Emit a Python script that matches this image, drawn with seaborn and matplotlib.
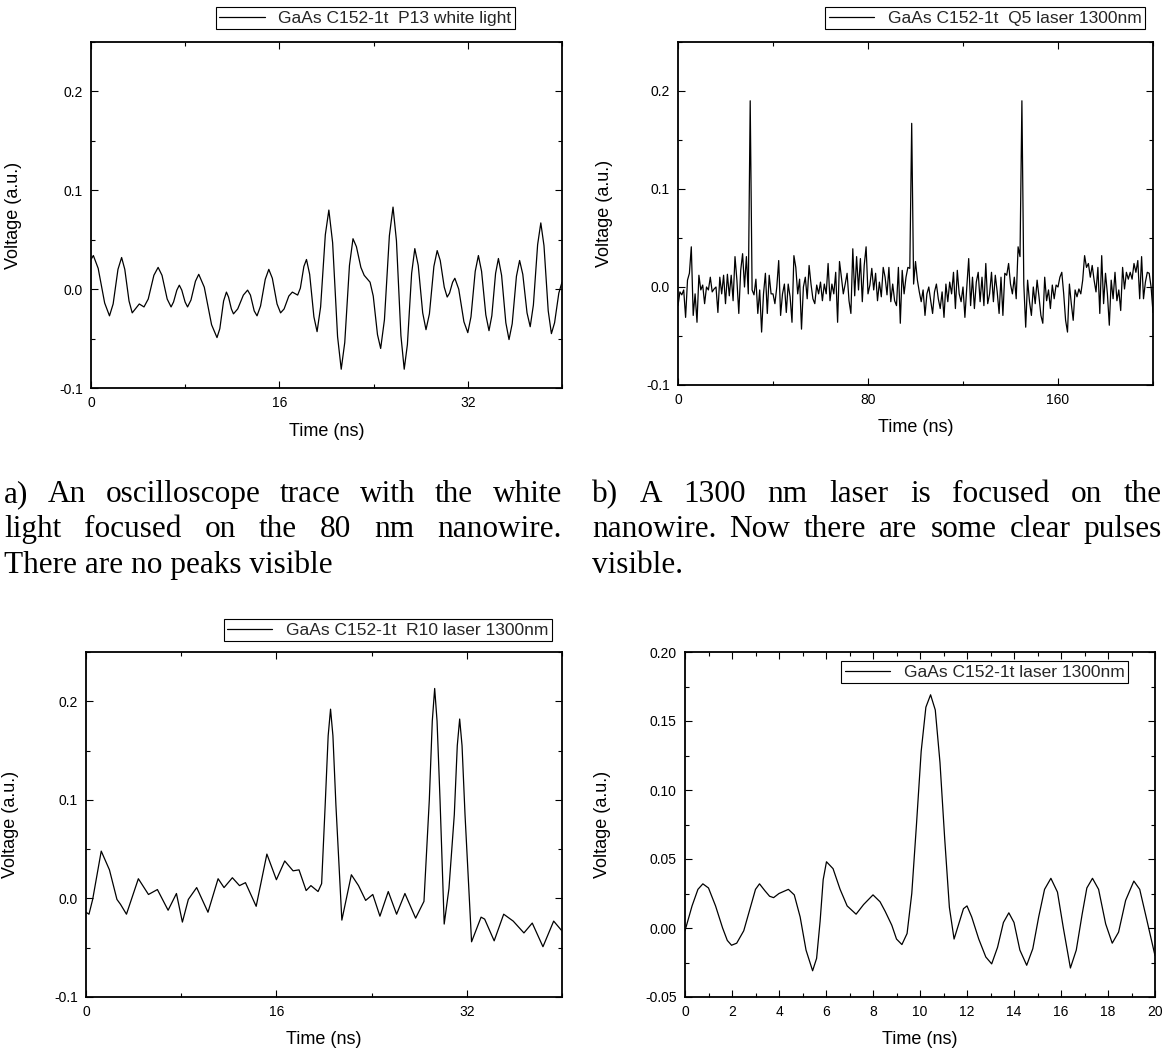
"""
Oscilloscope traces of a GaAs nanowire under white light / 1300 nm laser.
"""

import numpy as np
import matplotlib
matplotlib.use("Agg")
import matplotlib.pyplot as plt
import seaborn as sns
from matplotlib.ticker import MultipleLocator, FormatStrFormatter

# --- Data ---
# a) white light, P13
time_a = [0.0, 0.2, 0.61, 1.16, 1.57, 1.88, 2.29, 2.6, 2.87, 3.23,
          3.5, 4.1, 4.5, 4.86, 5.34, 5.7, 6.03, 6.47, 6.8, 7.01,
          7.29, 7.5, 7.71, 7.99, 8.2, 8.49, 8.87, 9.15, 9.62, 10.24,
          10.7, 10.94, 11.26, 11.5, 11.68, 11.92, 12.1, 12.46, 12.94, 13.3,
          13.54, 13.86, 14.1, 14.4, 14.8, 15.1, 15.4, 15.8, 16.1, 16.4,
          16.8, 17.1, 17.55, 17.78, 18.08, 18.3, 18.57, 18.93, 19.2, 19.5,
          19.9, 20.2, 20.52, 20.94, 21.25, 21.55, 21.95, 22.25, 22.54, 22.92,
          23.2, 23.7, 23.97, 24.33, 24.6, 24.92, 25.34, 25.65, 25.94, 26.32,
          26.6, 26.87, 27.23, 27.5, 27.79, 28.17, 28.45, 28.74, 29.12, 29.4,
          29.66, 30.0, 30.25, 30.45, 30.71, 30.9, 31.23, 31.67, 32.0, 32.27,
          32.63, 32.9, 33.17, 33.53, 33.8, 34.04, 34.36, 34.6, 34.87, 35.23,
          35.5, 35.77, 36.13, 36.4, 36.67, 37.03, 37.3, 37.57, 37.93, 38.2,
          38.47, 38.83, 39.1, 39.37, 39.73, 40.0]
volt_a = [0.030, 0.034, 0.021, -0.014, -0.027, -0.015, 0.020, 0.032, 0.020, -0.012,
          -0.024, -0.015, -0.018, -0.010, 0.014, 0.022, 0.014, -0.010, -0.018, -0.013,
          -0.001, 0.004, -0.001, -0.013, -0.018, -0.011, 0.008, 0.015, 0.002, -0.036,
          -0.049, -0.040, -0.012, -0.003, -0.008, -0.020, -0.025, -0.020, -0.006, -0.001,
          -0.006, -0.022, -0.027, -0.017, 0.010, 0.020, 0.011, -0.015, -0.024, -0.020,
          -0.007, -0.003, -0.006, 0.001, 0.023, 0.030, 0.015, -0.028, -0.043, -0.018,
          0.055, 0.080, 0.047, -0.048, -0.081, -0.054, 0.024, 0.051, 0.043, 0.022,
          0.014, 0.007, -0.007, -0.046, -0.060, -0.031, 0.054, 0.083, 0.049, -0.047,
          -0.081, -0.056, 0.016, 0.041, 0.024, -0.024, -0.041, -0.025, 0.023, 0.039,
          0.029, 0.002, -0.008, -0.004, 0.007, 0.011, 0.0, -0.033, -0.044, -0.028,
          0.018, 0.034, 0.018, -0.026, -0.042, -0.027, 0.016, 0.031, 0.014, -0.034,
          -0.051, -0.035, 0.013, 0.029, 0.015, -0.024, -0.038, -0.016, 0.045, 0.067,
          0.044, -0.022, -0.045, -0.034, -0.004, 0.007]

# b) laser 1300nm, Q5 (scope samples every 0.8 ns)
sample_ns_b = 0.8
volt_b = [
    -0.019, -0.005, -0.008, -0.003, -0.031, 0.007, 0.014, 0.041, -0.029, -0.007,
    -0.036, 0.012, -0.003, 0.002, -0.017, 0.0, -0.003, 0.010, -0.005, -0.002,
    0.0, -0.026, 0.010, -0.007, 0.012, -0.017, 0.013, -0.009, 0.012, -0.014,
    0.031, 0.007, -0.027, 0.017, 0.034, 0.0, 0.031, -0.007,
    0.190,
    -0.003, -0.008, 0.008, -0.027, -0.003, -0.046, -0.007, 0.014, -0.027, 0.012,
    -0.007, -0.007, -0.017, 0.0, 0.027, -0.029, -0.007, 0.003, -0.026, 0.003,
    -0.010, -0.036, 0.032, 0.020, -0.007, 0.008, -0.043, 0.0, 0.010, -0.012,
    0.022, 0.003, -0.012, -0.017, 0.002, -0.007, 0.005, -0.014, 0.003, -0.007,
    0.024, -0.014, 0.003, -0.007, 0.015, -0.036, 0.026, 0.010, -0.007, 0.003,
    0.014, -0.014, -0.027, 0.039, -0.009, 0.031, -0.003, 0.029, -0.015, 0.022,
    0.041, -0.007, 0.002, 0.019, -0.003, 0.014, -0.014, 0.005, -0.010, 0.020,
    0.010, -0.008, 0.020, -0.015, 0.003, -0.014, -0.019, 0.020, -0.037, 0.017,
    -0.007, 0.010, 0.020, 0.019,
    0.167,
    0.003, 0.026, 0.007, -0.005, -0.015, -0.003, -0.029, -0.007, 0.0, -0.014,
    -0.027, -0.005, 0.003, -0.012, -0.022, -0.005, -0.031, 0.003, -0.015, 0.005,
    -0.007, 0.015, -0.022, 0.017, -0.007, -0.015, 0.0, -0.031, 0.0, 0.029,
    -0.019, 0.010, -0.022, 0.005, 0.015, -0.015, 0.010, -0.019, 0.024, -0.017,
    -0.007, 0.015, -0.015, 0.012, -0.005, -0.027, 0.010, -0.029, 0.014, 0.012,
    0.024, 0.003, -0.007, 0.010, -0.012, 0.041, 0.031,
    0.190,
    0.003, -0.041, 0.007, -0.015, -0.029, 0.0, -0.017, 0.007, -0.010, -0.029,
    -0.037, 0.010, -0.014, -0.003, -0.022, 0.002, -0.012, 0.002, 0.0, 0.010,
    0.015, -0.007, -0.034, -0.046, 0.003, -0.017, -0.034, -0.003, -0.010, -0.002,
    -0.007, 0.007, 0.032, 0.020, 0.024, 0.010, 0.022, 0.007, -0.005, 0.020,
    -0.027, 0.032, -0.017, 0.014, -0.007, -0.039, 0.007, -0.012, 0.015, -0.014,
    -0.003, -0.024, 0.020, -0.002, 0.015, 0.008, 0.015, 0.008, 0.024, 0.015,
    0.027, -0.012, 0.031, -0.012, 0.005, 0.015, 0.014, 0.0, -0.026,
]
time_b = np.arange(len(volt_b)) * sample_ns_b

# c) laser 1300nm, R10
time_c = [0.0, 0.25, 0.56, 1.28, 1.97, 2.6, 2.9, 3.4, 4.4, 5.25,
          6.0, 6.9, 7.6, 8.1, 8.6, 9.3, 10.25, 11.1, 11.6, 12.3,
          12.9, 13.4, 14.3, 15.2, 16.0, 16.7, 17.4, 17.9, 18.5, 18.9,
          19.5, 19.8, 20.1, 20.35, 20.55, 20.75, 21.0, 21.5, 22.3, 22.9,
          23.5, 24.1, 24.7, 25.4, 26.1, 26.8, 27.7, 28.4, 28.85, 29.1,
          29.3, 29.5, 29.75, 30.1, 30.5, 30.95, 31.2, 31.4, 31.6, 31.85,
          32.4, 33.2, 33.5, 34.3, 35.1, 35.9, 36.8, 37.5, 38.4, 39.3,
          40.0]
volt_c = [-0.014, -0.016, -0.001, 0.048, 0.029, -0.001, -0.006, -0.016, 0.020, 0.004,
          0.009, -0.012, 0.005, -0.024, -0.001, 0.011, -0.014, 0.020, 0.011, 0.021,
          0.013, 0.016, -0.008, 0.045, 0.019, 0.038, 0.028, 0.029, 0.008, 0.013,
          0.007, 0.015, 0.095, 0.165, 0.192, 0.165, 0.095, -0.022, 0.024, 0.013,
          -0.002, 0.004, -0.018, 0.007, -0.016, 0.005, -0.020, -0.003, 0.100, 0.180,
          0.213, 0.180, 0.100, -0.026, 0.010, 0.085, 0.155, 0.182, 0.155, 0.085,
          -0.044, -0.019, -0.021, -0.043, -0.016, -0.023, -0.035, -0.025, -0.049, -0.023,
          -0.033]

# d) laser 1300nm, single pulse
time_d = [0.0, 0.3, 0.55, 0.76, 1.0, 1.3, 1.6, 1.8, 1.98, 2.2,
          2.5, 2.8, 3.0, 3.17, 3.4, 3.6, 3.77, 4.0, 4.4, 4.65,
          4.9, 5.15, 5.43, 5.6, 5.75, 5.88, 6.02, 6.3, 6.6, 6.9,
          7.28, 7.6, 8.0, 8.3, 8.52, 8.8, 9.0, 9.23, 9.45, 9.65,
          9.85, 10.05, 10.25, 10.45, 10.65, 10.85, 11.05, 11.25, 11.45, 11.65,
          11.85, 12.0, 12.2, 12.5, 12.8, 13.05, 13.3, 13.55, 13.78, 14.0,
          14.25, 14.54, 14.8, 15.05, 15.3, 15.57, 15.85, 16.1, 16.4, 16.65,
          16.9, 17.1, 17.34, 17.6, 17.9, 18.18, 18.45, 18.75, 19.1, 19.35,
          19.65, 20.0]
volt_d = [-0.002, 0.016, 0.028, 0.032, 0.029, 0.016, 0.000, -0.009, -0.0125, -0.011,
          -0.002, 0.016, 0.028, 0.032, 0.027, 0.023, 0.022, 0.025, 0.028, 0.024,
          0.008, -0.016, -0.031, -0.022, 0.005, 0.035, 0.048, 0.043, 0.028, 0.016,
          0.010, 0.017, 0.024, 0.019, 0.012, 0.002, -0.008, -0.012, -0.004, 0.025,
          0.075, 0.128, 0.160, 0.169, 0.158, 0.120, 0.065, 0.015, -0.008, 0.003,
          0.014, 0.016, 0.008, -0.008, -0.021, -0.026, -0.014, 0.004, 0.011, 0.004,
          -0.016, -0.027, -0.015, 0.008, 0.028, 0.036, 0.026, 0.000, -0.029, -0.016,
          0.010, 0.029, 0.036, 0.028, 0.003, -0.011, -0.003, 0.020, 0.034, 0.028,
          0.006, -0.020]

labels = ["GaAs C152-1t  P13 white light",
          "GaAs C152-1t  Q5 laser 1300nm",
          "GaAs C152-1t  R10 laser 1300nm",
          "GaAs C152-1t laser 1300nm"]

caption_a = ["a) An oscilloscope trace with the white",
             "light focused on the 80 nm nanowire.",
             "There are no peaks visible"]
caption_b = ["b) A 1300 nm laser is focused on the",
             "nanowire. Now there are some clear pulses",
             "visible."]

# --- Style ---
sns.set_theme(style="ticks")
plt.rcParams['font.family'] = ['Liberation Sans', 'DejaVu Sans']
plt.rcParams['axes.unicode_minus'] = False

W, H = 1173, 1054
fig = plt.figure(figsize=(W / 100, H / 100), dpi=100)


def _axes(left, top, right, bottom):
    """Axes from pixel box (y measured from top)."""
    return fig.add_axes([left / W, 1 - bottom / H, (right - left) / W, (bottom - top) / H])


def _style(ax, xmaj, xmin, ymaj, ymin, yfmt, xfmt='%d'):
    for sp in ax.spines.values():
        sp.set_linewidth(1.3)
        sp.set_color('black')
    ax.xaxis.set_major_locator(MultipleLocator(xmaj))
    ax.xaxis.set_minor_locator(MultipleLocator(xmin))
    ax.yaxis.set_major_locator(MultipleLocator(ymaj))
    ax.yaxis.set_minor_locator(MultipleLocator(ymin))
    ax.xaxis.set_major_formatter(FormatStrFormatter(xfmt))
    ax.yaxis.set_major_formatter(FormatStrFormatter(yfmt))
    ax.tick_params(which='both', direction='in', top=True, right=True,
                   color='black', width=0.8, labelsize=10, pad=6, labelcolor='black')
    ax.tick_params(which='major', length=5)
    ax.tick_params(which='minor', length=3)
    ax.set_xlabel('Time (ns)', fontsize=13, color='black')
    ax.set_ylabel('Voltage (a.u.)', fontsize=13, color='black')


def _legend(ax, right, top):
    ax.legend(loc='upper right', bbox_to_anchor=(right / W, 1 - top / H),
              bbox_transform=fig.transFigure, frameon=True, fancybox=False,
              edgecolor='black', framealpha=1, fontsize=12.5, borderpad=0.2,
              handlelength=2.6, handletextpad=0.8, borderaxespad=0)
    ax.get_legend().get_frame().set_linewidth(0.8)


def _caption(lines, x0, x1, baselines):
    """Justified caption lines (last line left aligned)."""
    r = fig.canvas.get_renderer()
    kw = dict(fontsize=22.5, family='Liberation Serif', va='baseline', color='black')
    for i, (line, yb) in enumerate(zip(lines, baselines)):
        y = 1 - yb / H
        if i == len(lines) - 1:
            fig.text(x0 / W, y, line, ha='left', **kw)
            continue
        words = line.split()
        texts = [fig.text(0, y, w, ha='left', **kw) for w in words]
        widths = [t.get_window_extent(r).width for t in texts]
        gap = (x1 - x0 - sum(widths)) / (len(words) - 1)
        x = x0
        for t, w in zip(texts, widths):
            t.set_x(x / W)
            x += w + gap


panels = [
    (time_a, volt_a, (91, 42, 562, 388), (0, 40), (-0.1, 0.25), (16, 8, 0.1, 0.05, '%.1f'), (515, 7), -0.146),
    (time_b, volt_b, (678, 42, 1153, 385), (0, 200), (-0.1, 0.25), (80, 40, 0.1, 0.05, '%.1f'), (1145, 7), -0.137),
    (time_c, volt_c, (86, 652, 562, 997), (0, 40), (-0.1, 0.25), (16, 8, 0.1, 0.05, '%.1f'), (552, 619), -0.141),
    (time_d, volt_d, (685, 652, 1155, 997), (0, 20), (-0.05, 0.20), (2, 1, 0.05, 0.025, '%.2f'), (1128, 661), -0.157),
]

for (t, v, box, xl, yl, tk, leg, ylab_x), label in zip(panels, labels):
    ax = _axes(*box)
    sns.lineplot(x=t, y=v, ax=ax, color='black', linewidth=0.9, label=label,
                 estimator=None, sort=False)
    ax.set_xlim(*xl)
    ax.set_ylim(*yl)
    _style(ax, *tk)
    ax.yaxis.set_label_coords(ylab_x, 0.5)
    ax.xaxis.set_label_coords(0.5, -0.10)
    _legend(ax, *leg)

_caption(caption_a, 4, 562, [502, 537, 573])
_caption(caption_b, 592, 1162, [502, 537, 573])

fig.savefig('out.png', dpi=100)
plt.close(fig)
